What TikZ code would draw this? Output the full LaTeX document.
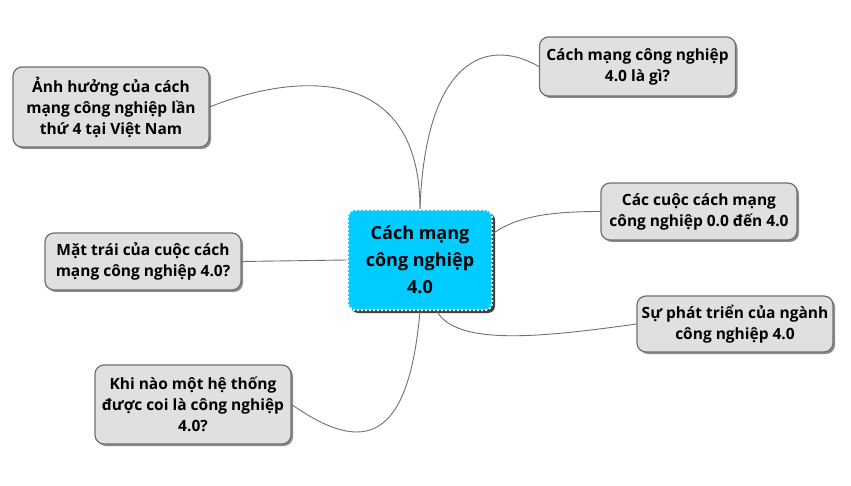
\documentclass[tikz,border=0pt]{standalone}
\usepackage{fontspec}
\setmainfont{Open Sans}
\usepackage{xcolor}
\usetikzlibrary{shadows}
\definecolor{topiccyan}{RGB}{0,204,255}
\definecolor{subgray}{RGB}{224,224,224}
\definecolor{linegray}{RGB}{112,112,112}

\begin{document}
\begin{tikzpicture}[
    x=1pt, y=1pt,
    topic/.style={rectangle, rounded corners=7pt, fill=topiccyan, draw=white, line width=2pt, dash pattern=on 2pt off 2pt,
        minimum width=144pt, minimum height=100pt, align=center, font=\bfseries\fontsize{18}{27}\selectfont,
        drop shadow={shadow xshift=3pt, shadow yshift=-3pt, fill=black, opacity=0.75}},
    sub/.style={rectangle, rounded corners=9pt, fill=subgray, draw=linegray, line width=1.2pt, minimum width=196pt,
        align=center, font=\bfseries\fontsize{15.5}{21}\selectfont,
        drop shadow={shadow xshift=2pt, shadow yshift=-2pt, fill=black, opacity=0.45}},
    link/.style={draw=linegray, line width=0.9pt}
]
\useasboundingbox (0,0) rectangle (851,-486);

% Nodes
\node[topic] (core) at (420,-260) {C\'ach mạng\\c\^ong nghiệp\\4.0};
\node[sub, minimum height=59pt] (whatis) at (637.5,-66.5) {C\'ach mạng c\^ong nghiệp\\4.0 l\`a g\`i?};
\node[sub, minimum height=57pt] (eras) at (699,-211.5) {C\'ac cuộc c\'ach mạng\\c\^ong nghiệp 0.0 đến 4.0};
\node[sub, minimum height=56pt] (growth) at (735,-324) {Sự ph\'at triển của ng\`anh\\c\^ong nghiệp 4.0};
\node[sub, minimum height=80pt] (impact) at (111,-107) {Ảnh hưởng của c\'ach\\mạng c\^ong nghiệp lần\\thứ 4 tại Việt Nam};
\node[sub, minimum height=57pt] (downside) at (143,-261.5) {Mặt tr\'ai của cuộc c\'ach\\mạng c\^ong nghiệp 4.0?};
\node[sub, minimum height=79pt] (when) at (193,-404.5) {Khi n\`ao một hệ thống\\được coi l\`a c\^ong nghiệp\\4.0?};

% Links
\draw[link] (impact.east) to[out=22, in=90, out distance=85, in distance=150] (core.north);
\draw[link] (core.north) to[out=88, in=150, out distance=150, in distance=60] (whatis.west);
\draw[link] (core.20) to[out=35, in=180, out distance=30, in distance=50] (eras.west);
\draw[link] (core.-72) to[out=-60, in=188, out distance=40, in distance=100] (growth.west);
\draw[link] (downside.east) -- (core.west);
\draw[link] (core.south) to[out=-95, in=-35, out distance=130, in distance=90] (when.east);

\end{tikzpicture}
\end{document}
